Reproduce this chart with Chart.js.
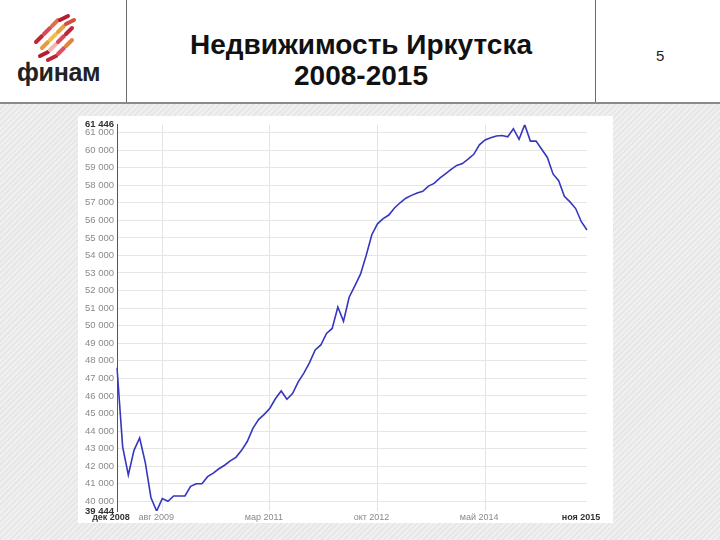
<!DOCTYPE html>
<html>
<head>
<meta charset="utf-8">
<script src="https://cdn.jsdelivr.net/npm/chart.js@4.4.1/dist/chart.umd.min.js"></script>
<style>
  html, body { margin:0; padding:0; }
  body { width:720px; height:540px; position:relative; overflow:hidden; font-family:"Liberation Sans", Arial, sans-serif;
    background: repeating-linear-gradient(135deg, #e7e7e7 0px, #e7e7e7 2px, #f0f0f0 2px, #f0f0f0 4px); }
  #header { position:absolute; left:0; top:0; width:720px; height:102px; background:#fff; border-bottom:2px solid #8a8a8a; }
  .vsep { position:absolute; top:0; width:1px; height:102px; background:#6a6a6a; }
  #title { position:absolute; left:126px; width:470px; top:29px; text-align:center; font-weight:bold; font-size:28px; line-height:31px; color:#111; }
  #page { position:absolute; left:656px; top:47px; font-size:15px; color:#222; }
  #brand { position:absolute; left:17px; top:58px; font-weight:bold; font-size:25px; color:#222; letter-spacing:-0.3px; }
  #logo { position:absolute; left:26px; top:12px; }
  #box { position:absolute; left:78px; top:116px; width:535px; height:407px; background:#fff; }
</style>
</head>
<body>
<div id="header">
  <svg id="logo" width="64" height="50" viewBox="0 0 64 50">
    <g stroke-linecap="round" stroke-width="4">
      <line x1="10" y1="30" x2="16" y2="24" stroke="#c0263a"/>
      <line x1="18" y1="22" x2="24" y2="16" stroke="#d8485a"/>
      <line x1="26" y1="14" x2="32" y2="8" stroke="#e0704a"/>
      <line x1="34" y1="8" x2="42" y2="4" stroke="#b81c30"/>
      <line x1="16" y1="36" x2="22" y2="30" stroke="#e89a3a"/>
      <line x1="24" y1="28" x2="30" y2="22" stroke="#f0c04a"/>
      <line x1="32" y1="20" x2="38" y2="14" stroke="#e8a040"/>
      <line x1="40" y1="12" x2="48" y2="8" stroke="#d05040"/>
      <line x1="14" y1="44" x2="22" y2="40" stroke="#b81c30"/>
      <line x1="24" y1="38" x2="30" y2="32" stroke="#f2b8b0"/>
      <line x1="32" y1="30" x2="38" y2="24" stroke="#d8485a"/>
      <line x1="40" y1="22" x2="46" y2="16" stroke="#c0263a"/>
      <line x1="22" y1="48" x2="30" y2="44" stroke="#c0263a"/>
      <line x1="32" y1="42" x2="38" y2="36" stroke="#e05060"/>
      <line x1="40" y1="34" x2="46" y2="28" stroke="#e88040"/>
    </g>
  </svg>
  <div id="brand">финам</div>
  <div class="vsep" style="left:126px"></div>
  <div class="vsep" style="left:595px"></div>
  <div id="title">Недвижимость Иркутска<br>2008-2015</div>
  <div id="page">5</div>
</div>
<div id="box"><canvas id="c" width="535" height="407"></canvas></div>
<script>
// Month names used to build the monthly categories (Dec 2008 .. Nov 2015)
const monthNames = ['янв','фев','мар','апр','май','июн','июл','авг','сен','окт','ноя','дек'];
const startYear = 2008, startMonth = 11, monthCount = 84;

// Average price per sq. m, Irkutsk (roubles), monthly
const prices = [
  47600, 43100, 41500, 42900, 43600, 42200, 40200, 39444, 40150, 40000,
  40300, 40300, 40300, 40850, 41000, 41000, 41400, 41600, 41850, 42050,
  42300, 42500, 42900, 43400, 44150, 44650, 44950, 45300, 45850, 46280,
  45810, 46130, 46800, 47300, 47900, 48620, 48900, 49560, 49840, 51060,
  50250, 51620, 52270, 52930, 54000, 55180, 55800, 56100, 56300, 56700,
  57000, 57260, 57420, 57560, 57650, 57950, 58100, 58400, 58650, 58900,
  59130, 59230, 59480, 59760, 60300, 60580, 60700, 60800, 60830, 60760,
  61220, 60610, 61446, 60510, 60510, 60050, 59580, 58640, 58260, 57370,
  57050, 56670, 55920, 55450
];

// Tick labels
const yTicks = [39444, 40000, 41000, 42000, 43000, 44000, 45000, 46000, 47000, 48000, 49000,
  50000, 51000, 52000, 53000, 54000, 55000, 56000, 57000, 58000, 59000, 60000, 61000, 61446];
const yBoldTicks = [39444, 61446];
const xTickIdx = [0, 8, 27, 46, 65, 83];
const xBoldIdx = [0, 83];

const categories = [];
for (let i = 0; i < monthCount; i++) {
  const m = (startMonth + i) % 12;
  const y = startYear + Math.floor((startMonth + i) / 12);
  categories.push(monthNames[m] + ' ' + y);
}

const fmt = v => String(v).replace(/\B(?=(\d{3})+(?!\d))/g, ' ');

new Chart(document.getElementById('c'), {
  type: 'line',
  data: {
    labels: categories,
    datasets: [{
      data: prices,
      borderColor: '#3636bf',
      borderWidth: 1.6,
      pointRadius: 0,
      tension: 0,
      fill: false
    }]
  },
  options: {
    responsive: false,
    animation: false,
    layout: { padding: { left: 0, right: 26, top: 4, bottom: 0 } },
    plugins: { legend: { display: false }, tooltip: { enabled: false } },
    scales: {
      x: {
        type: 'category',
        offset: false,
        border: { display: false },
        grid: {
          drawTicks: false,
          color: ctx => (xTickIdx.includes(ctx.index) && ctx.index > 0 && ctx.index < monthCount - 1) ? '#e3e3e3' : 'rgba(0,0,0,0)'
        },
        ticks: {
          autoSkip: false,
          maxRotation: 0,
          minRotation: 0,
          padding: 1,
          labelOffset: -6,
          callback: (v, i) => xTickIdx.includes(i) ? categories[i] : '',
          color: ctx => xBoldIdx.includes(ctx.index) ? '#333' : '#8a8a8a',
          font: ctx => ({ family: 'Liberation Sans', size: 9, weight: xBoldIdx.includes(ctx.index) ? 'bold' : 'normal' })
        },
        afterFit: s => { s.height = 12; }
      },
      y: {
        min: 39444,
        max: 61446,
        border: { display: true, color: '#555', width: 1 },
        grid: {
          drawTicks: false,
          color: ctx => (ctx.tick && yBoldTicks.includes(ctx.tick.value)) ? 'rgba(0,0,0,0)' : '#e6e6e6'
        },
        afterBuildTicks: s => { s.ticks = yTicks.map(v => ({ value: v })); },
        ticks: {
          padding: 3,
          autoSkip: false,
          callback: v => fmt(v),
          color: ctx => (ctx.tick && yBoldTicks.includes(ctx.tick.value)) ? '#333' : '#8a8a8a',
          font: ctx => ({ family: 'Liberation Sans', size: 9.5, weight: (ctx.tick && yBoldTicks.includes(ctx.tick.value)) ? 'bold' : 'normal' })
        },
        afterFit: s => { s.width = 39; }
      }
    }
  }
});
</script>
</body>
</html>
